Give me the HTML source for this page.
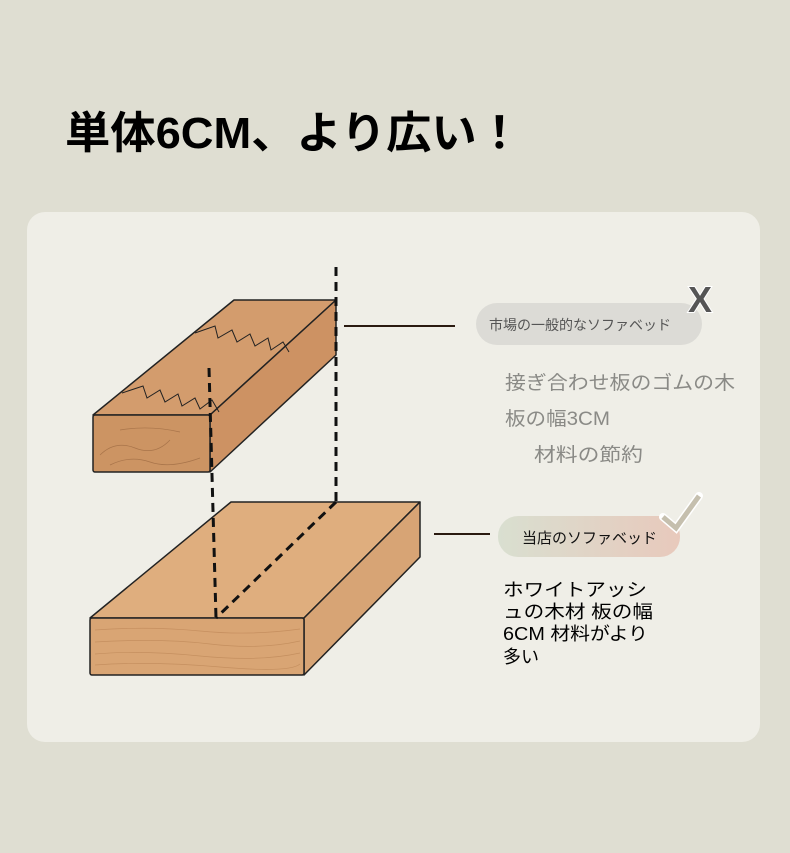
<!DOCTYPE html>
<html><head><meta charset="utf-8"><style>
html,body{margin:0;padding:0;background:#dfded2;}
body{width:790px;height:853px;position:relative;overflow:hidden;font-family:"Liberation Sans","Noto Sans CJK JP",sans-serif;}
.card{position:absolute;left:27px;top:212px;width:733px;height:530px;background:#efeee7;border-radius:18px;}
svg{position:absolute;left:0;top:0;}
</style></head><body>
<div class="card"></div>
<svg width="790" height="853" viewBox="0 0 790 853" font-family="Liberation Sans, Noto Sans CJK JP, sans-serif">
  <text x="65" y="148" font-size="44" font-weight="bold" fill="#000" textLength="457" lengthAdjust="spacingAndGlyphs">単体6CM、より広い！</text>

  <!-- bottom block -->
  <polygon points="90,618 231,502 420,502 304,618" fill="#dfae7e" stroke="#222" stroke-width="1.5" stroke-linejoin="round"/>
  <polygon points="304,618 420,502 420,557 304,675" fill="#d7a475" stroke="#222" stroke-width="1.5" stroke-linejoin="round"/>
  <rect x="90" y="618" width="214" height="57" rx="2" fill="#d9a574" stroke="#222" stroke-width="1.5"/>
  <g stroke="#c08a5a" stroke-width="0.7" fill="none" opacity="0.8">
    <path d="M95,630 Q150,626 200,631 T300,629"/>
    <path d="M95,642 Q160,638 210,644 T300,641"/>
    <path d="M95,654 Q140,650 200,656 T300,653"/>
    <path d="M95,665 Q150,661 220,667 T300,664"/>
  </g>

  <!-- top block -->
  <polygon points="93,415 234,300 336,300 210,415" fill="#d39c6d" stroke="#222" stroke-width="1.5" stroke-linejoin="round"/>
  <polygon points="210,415 336,300 336,355 210,472" fill="#cd9263" stroke="#222" stroke-width="1.5" stroke-linejoin="round"/>
  <rect x="93" y="415" width="117" height="57" rx="2" fill="#cc9463" stroke="#222" stroke-width="1.5"/>
  <g stroke="#a8744a" stroke-width="0.7" fill="none">
    <path d="M100,455 Q115,440 135,448 T170,440"/>
    <path d="M110,465 Q130,455 150,462 T200,458"/>
    <path d="M120,430 Q150,425 180,432"/>
  </g>
  <g stroke="#222" stroke-width="1" fill="none">
    <polyline points="195,333 215,326 218,338 232,330 237,342 250,334 255,346 268,338 271,350 283,342 289,352"/>
    <polyline points="122,393 143,386 147,398 160,390 165,402 178,394 182,406 195,398 200,409 212,400 219,412"/>
  </g>

  <!-- dashed guides -->
  <g stroke="#111" stroke-width="3" stroke-dasharray="9,6" fill="none">
    <line x1="336" y1="267" x2="336" y2="502"/>
    <line x1="336" y1="502" x2="216" y2="618"/>
    <line x1="209" y1="368" x2="216" y2="618"/>
  </g>

  <!-- connectors -->
  <line x1="344" y1="326" x2="455" y2="326" stroke="#2a1a10" stroke-width="2"/>
  <line x1="434" y1="534" x2="490" y2="534" stroke="#2a1a10" stroke-width="2"/>

  <!-- pill 1 -->
  <rect x="476" y="303" width="226" height="42" rx="21" fill="#dcdbd6"/>
  <text x="489" y="330" font-size="14" fill="#555">市場の一般的なソファベッド</text>
  <text x="688" y="312" font-size="36" font-weight="bold" fill="#555" stroke="#fff" stroke-width="2" paint-order="stroke">X</text>

  <text x="505" y="389" font-size="19" fill="#8a8a86" textLength="230" lengthAdjust="spacingAndGlyphs">接ぎ合わせ板のゴムの木</text>
  <text x="505" y="425" font-size="19" fill="#8a8a86" textLength="105" lengthAdjust="spacingAndGlyphs">板の幅3CM</text>
  <text x="534" y="461" font-size="19" fill="#8a8a86" textLength="109" lengthAdjust="spacingAndGlyphs">材料の節約</text>

  <!-- pill 2 -->
  <defs><linearGradient id="g" x1="0" x2="1"><stop offset="0" stop-color="#d9dfd0"/><stop offset="1" stop-color="#e8c9bc"/></linearGradient></defs>
  <rect x="498" y="516" width="182" height="41" rx="20" fill="url(#g)"/>
  <text x="522" y="543" font-size="15" fill="#111">当店のソファベッド</text>
  <path d="M663,517 L676,528 L699,496" stroke="#fff" stroke-width="8" fill="none" stroke-linecap="round"/>
  <path d="M663,517 L676,528 L699,496" stroke="#c5bfae" stroke-width="5" fill="none"/>

  <g font-size="18" fill="#000">
    <text x="503" y="596" textLength="144" lengthAdjust="spacingAndGlyphs">ホワイトアッシ</text>
    <text x="503" y="618" textLength="150" lengthAdjust="spacingAndGlyphs">ュの木材 板の幅</text>
    <text x="503" y="640" textLength="145" lengthAdjust="spacingAndGlyphs">6CM 材料がより</text>
    <text x="503" y="663">多い</text>
  </g>
</svg>
</body></html>
